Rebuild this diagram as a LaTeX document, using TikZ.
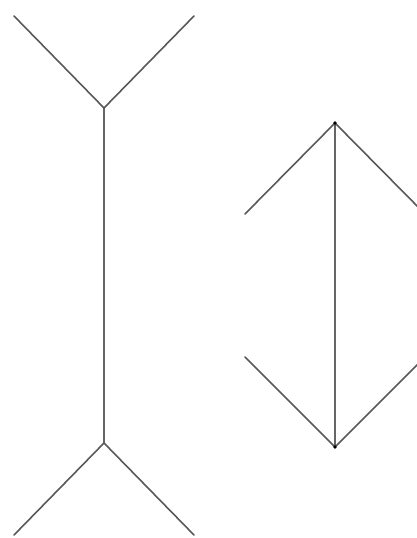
\documentclass[tikz,border=0pt]{standalone}
\begin{document}
\begin{tikzpicture}[x=1pt,y=-1pt,
  fin/.style={draw=black!65,line width=1.6pt,line cap=round},
  shaft/.style={draw=black!60,line width=2.2pt}]
\useasboundingbox (0,0) rectangle (417,538);
\clip (0,0) rectangle (417,538);
% left figure
\coordinate (lt) at (104,108);
\coordinate (lb) at (104,443);
\coordinate (ltl) at (14,16);
\coordinate (ltr) at (194,16);
\coordinate (lbl) at (14,535);
\coordinate (lbr) at (194,535);
\draw[shaft] (lt) -- (lb);
\draw[fin] (ltl) -- (lt) -- (ltr);
\draw[fin] (lbl) -- (lb) -- (lbr);
% right figure
\coordinate (rt) at (335,123);
\coordinate (rb) at (335,447);
\coordinate (rtl) at (245,214);
\coordinate (rtr) at (425,214);
\coordinate (rbl) at (245,357);
\coordinate (rbr) at (425,357);
\draw[shaft] (rt) -- (rb);
\draw[fin] (rtl) -- (rt) -- (rtr);
\draw[fin] (rbl) -- (rb) -- (rbr);
\fill[black] (rt) circle (1.8pt);
\fill[black] (rb) circle (1.8pt);
\end{tikzpicture}
\end{document}
